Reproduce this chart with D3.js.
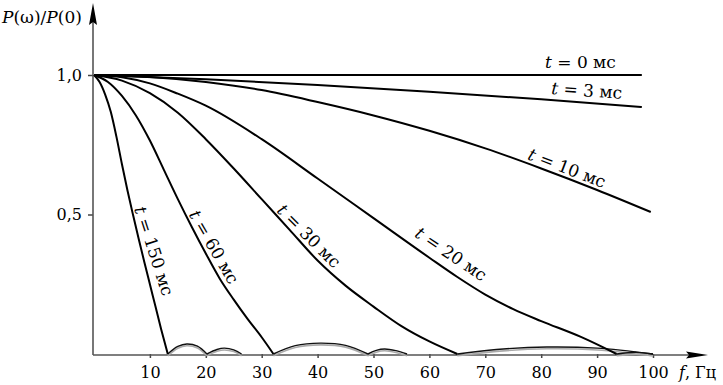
<!DOCTYPE html>
<html>
<meta charset="utf-8">
<script src="https://d3js.org/d3.v7.min.js"></script>
<style>
  body { margin: 0; background: #fff; }
  svg text { font-family: "DejaVu Serif", serif; }
</style>
<body>
<div id="chart"></div>
<script>

// spectra P(w)/P(0), [f (Hz), value]
var t0 = [[0,1],[98,1]];
var t3 = [[0,1],[20,0.985],[40,0.964],[60,0.94],[80,0.913],[98,0.885]];
var t10 = [[0,1],[10,0.993],[20,0.975],[30,0.946],[40,0.903],[50,0.855],[60,0.80],
           [70,0.737],[80,0.665],[90,0.588],[99.6,0.509]];
var t20 = [[0,1],[5,0.992],[10,0.97],[15,0.933],[20,0.89],[30,0.77],[40,0.629],
           [50,0.487],[60,0.345],[65,0.276],[70,0.213],[75,0.161],[80,0.118],[87,0.062],[93.5,0]];
var t30 = [[0,1],[5,0.98],[10,0.935],[15,0.865],[20,0.77],[25,0.665],[30,0.555],
           [35,0.445],[40,0.335],[45,0.245],[50,0.17],[55,0.1],[60,0.045],[65,0]];
var t60 = [[0,1],[2.5,0.975],[5,0.925],[7.5,0.855],[10,0.765],[12.5,0.66],[15,0.555],
           [17.5,0.455],[20,0.36],[22.5,0.27],[25,0.195],[27.5,0.125],[30,0.06],[32.1,0]];
var t150 = [[0,1],[1,0.975],[2,0.93],[3,0.868],[4,0.78],[5,0.68],[6,0.585],[7,0.497],
            [8,0.412],[9,0.33],[10,0.25],[11,0.17],[12,0.09],[13.2,0]];

// side lobes past the first zero
var lobes = [
  [[13.2,0],[15,0.027],[16.6,0.036],[18.5,0.028],[20.2,0]],
  [[20.2,0],[22,0.016],[23.3,0.021],[25,0.015],[26.4,0]],
  [[32.1,0],[36,0.03],[40.5,0.039],[45,0.031],[49,0]],
  [[49,0],[50.5,0.013],[52,0.018],[54,0.012],[56,0]],
  [[65,0],[72,0.016],[81,0.025],[90,0.021],[100,0]],
  [[93.5,0],[97,0.006],[100,0]]
];

var curves = [t0, t3, t10, t20, t30, t60, t150];
var curveTimes = ["0", "3", "10", "20", "30", "60", "150"];
var xTicks = [10, 20, 30, 40, 50, 60, 70, 80, 90, 100];
var yTicks = [0.5, 1.0];

var width = 723, height = 385;

var svg = d3.select("#chart")
  .append("svg")
    .attr("width", width)
    .attr("height", height);

var x = d3.scaleLinear().domain([0, 100]).range([94, 653]);
var y = d3.scaleLinear().domain([0, 1]).range([354, 75]);

// axes
var xAxis = svg.append("g")
    .attr("transform", "translate(0," + y(0) + ")")
    .call(d3.axisBottom(x).tickValues(xTicks).tickSize(4).tickPadding(9)
      .tickFormat(d3.format("d")));
var yAxis = svg.append("g")
    .attr("transform", "translate(" + (x(0) - 1) + ",0)")
    .call(d3.axisLeft(y).tickValues(yTicks).tickSize(5).tickPadding(6)
      .tickFormat(function(d) { return d3.format(".1f")(d).replace(".", ","); }));

[xAxis, yAxis].forEach(function(g) {
  g.attr("font-family", null);
  g.select(".domain").remove();
  g.selectAll("line").attr("stroke", "#444").attr("stroke-width", 1.5);
  g.selectAll("text").style("font-size", "16px").attr("fill", "#000");
});

var ax0 = x(0) - 1, ay0 = y(0) + 1;
svg.append("line")
    .attr("x1", ax0).attr("y1", ay0).attr("x2", 690).attr("y2", ay0)
    .attr("stroke", "#555").attr("stroke-width", 1.6);
svg.append("line")
    .attr("x1", ax0).attr("y1", ay0).attr("x2", ax0).attr("y2", 20)
    .attr("stroke", "#555").attr("stroke-width", 1.6);
svg.append("path")
    .attr("d", "M708," + ay0 + "L686," + (ay0 - 3.5) + "L689," + ay0 + "L686," + (ay0 + 3.5) + "Z")
    .attr("fill", "#000");
svg.append("path")
    .attr("d", "M" + ax0 + ",3L" + (ax0 - 4) + ",25L" + ax0 + ",22L" + (ax0 + 4) + ",25Z")
    .attr("fill", "#000");

// axis titles
var yt = svg.append("text").attr("x", 2).attr("y", 23)
    .style("font-size", "17px");
yt.append("tspan").style("font-style", "italic").text("P");
yt.append("tspan").text("(ω)/");
yt.append("tspan").style("font-style", "italic").text("P");
yt.append("tspan").text("(0)");

var xt = svg.append("text").attr("x", 679).attr("y", 378)
    .style("font-size", "16px");
xt.append("tspan").style("font-style", "italic").text("f");
xt.append("tspan").text(", Гц");

// curves
var line = d3.line()
    .x(function(d) { return x(d[0]); })
    .y(function(d) { return y(d[1]); })
    .curve(d3.curveMonotoneX);

var lobeLine = d3.line()
    .x(function(d) { return x(d[0]); })
    .y(function(d) { return y(d[1]); })
    .curve(d3.curveCatmullRom);

svg.selectAll(".lobeShade")
  .data(lobes)
  .enter()
  .append("path")
    .attr("d", lobeLine)
    .attr("transform", "translate(0,1.8)")
    .attr("fill", "none")
    .attr("stroke", "#aaa")
    .attr("stroke-width", 1.6);

svg.selectAll(".lobe")
  .data(lobes)
  .enter()
  .append("path")
    .attr("d", lobeLine)
    .attr("fill", "none")
    .attr("stroke", "#111")
    .attr("stroke-width", 1.4);

svg.selectAll(".curve")
  .data(curves)
  .enter()
  .append("path")
    .attr("d", line)
    .attr("fill", "none")
    .attr("stroke", "#000")
    .attr("stroke-width", 2);

// curve labels: translate / rotation for each
var labelPlace = [
  {x: 545, y: 68, a: 0, anchor: "start"},
  {x: 551, y: 94, a: 4, anchor: "start"},
  {x: 567, y: 168, a: 21, anchor: "middle"},
  {x: 451, y: 254, a: 34, anchor: "middle"},
  {x: 309, y: 236, a: 45, anchor: "middle"},
  {x: 214, y: 247, a: 60, anchor: "middle"},
  {x: 154, y: 251, a: 72, anchor: "middle"}
];

curveTimes.forEach(function(tm, i) {
  var p = labelPlace[i];
  var txt = svg.append("text")
      .attr("transform", "translate(" + p.x + "," + p.y + ")rotate(" + p.a + ")")
      .attr("text-anchor", p.anchor)
      .attr("dy", p.anchor === "middle" ? "0.35em" : 0)
      .style("font-size", "17px");
  txt.append("tspan").style("font-style", "italic").text("t");
  txt.append("tspan").text(" = " + tm + " мс");
});

</script>
</body>
</html>
